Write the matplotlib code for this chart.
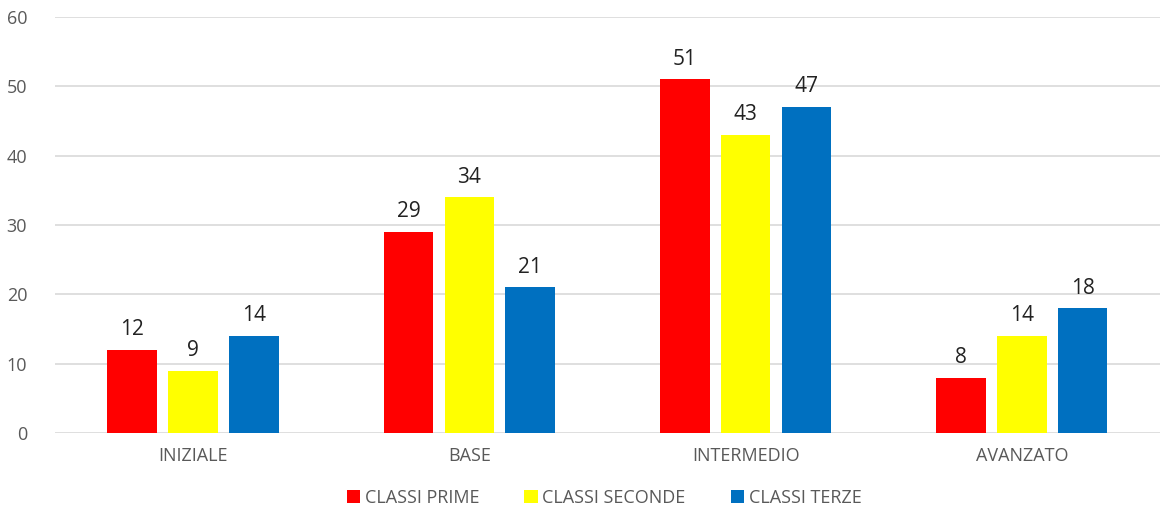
import numpy as np
import matplotlib
matplotlib.use("Agg")
import matplotlib.pyplot as plt

categories = ["INIZIALE", "BASE", "INTERMEDIO", "AVANZATO"]
series_names = ["CLASSI PRIME", "CLASSI SECONDE", "CLASSI TERZE"]
prime = [12, 29, 51, 8]
seconde = [9, 34, 43, 14]
terze = [14, 21, 47, 18]
colors = ["#ff0000", "#ffff00", "#0070c0"]

plt.rcParams["font.family"] = ["Open Sans", "DejaVu Sans"]

fig = plt.figure(figsize=(11.63, 5.08), dpi=100)
ax = fig.add_axes([0.0473, 0.1476, 0.9501, 0.8189])

x = np.arange(len(categories))
width = 0.18
step = 0.22
for i, (vals, name, col) in enumerate(zip([prime, seconde, terze], series_names, colors)):
    pos = x + (i - 1) * step
    bars = ax.bar(pos, vals, width=width, color=col, label=name, zorder=3)
    for b, v in zip(bars, vals):
        ax.text(b.get_x() + b.get_width() / 2, v + 1.4, str(v), ha="center", va="bottom",
                fontsize=15, color="#222222")

ax.set_xlim(-0.5, 3.5)
ax.set_ylim(0, 60)
ax.set_yticks(range(0, 61, 10))
ax.yaxis.grid(True, color="#d9d9d9", linewidth=1.2)
ax.set_axisbelow(True)
for s in ax.spines.values():
    s.set_visible(False)
ax.tick_params(axis="both", length=0, colors="#595959", labelsize=13)
ax.tick_params(axis="y", pad=20)
ax.tick_params(axis="x", pad=10)
ax.set_xticks(x)
ax.set_xticklabels(categories)

ax.legend(loc="upper center", bbox_to_anchor=(0.497, -0.095), ncol=3, frameon=False,
          fontsize=13, labelcolor="#595959", handlelength=0.75, handleheight=0.75,
          handletextpad=0.25, columnspacing=2.5)

fig.savefig("out.png", dpi=100)
